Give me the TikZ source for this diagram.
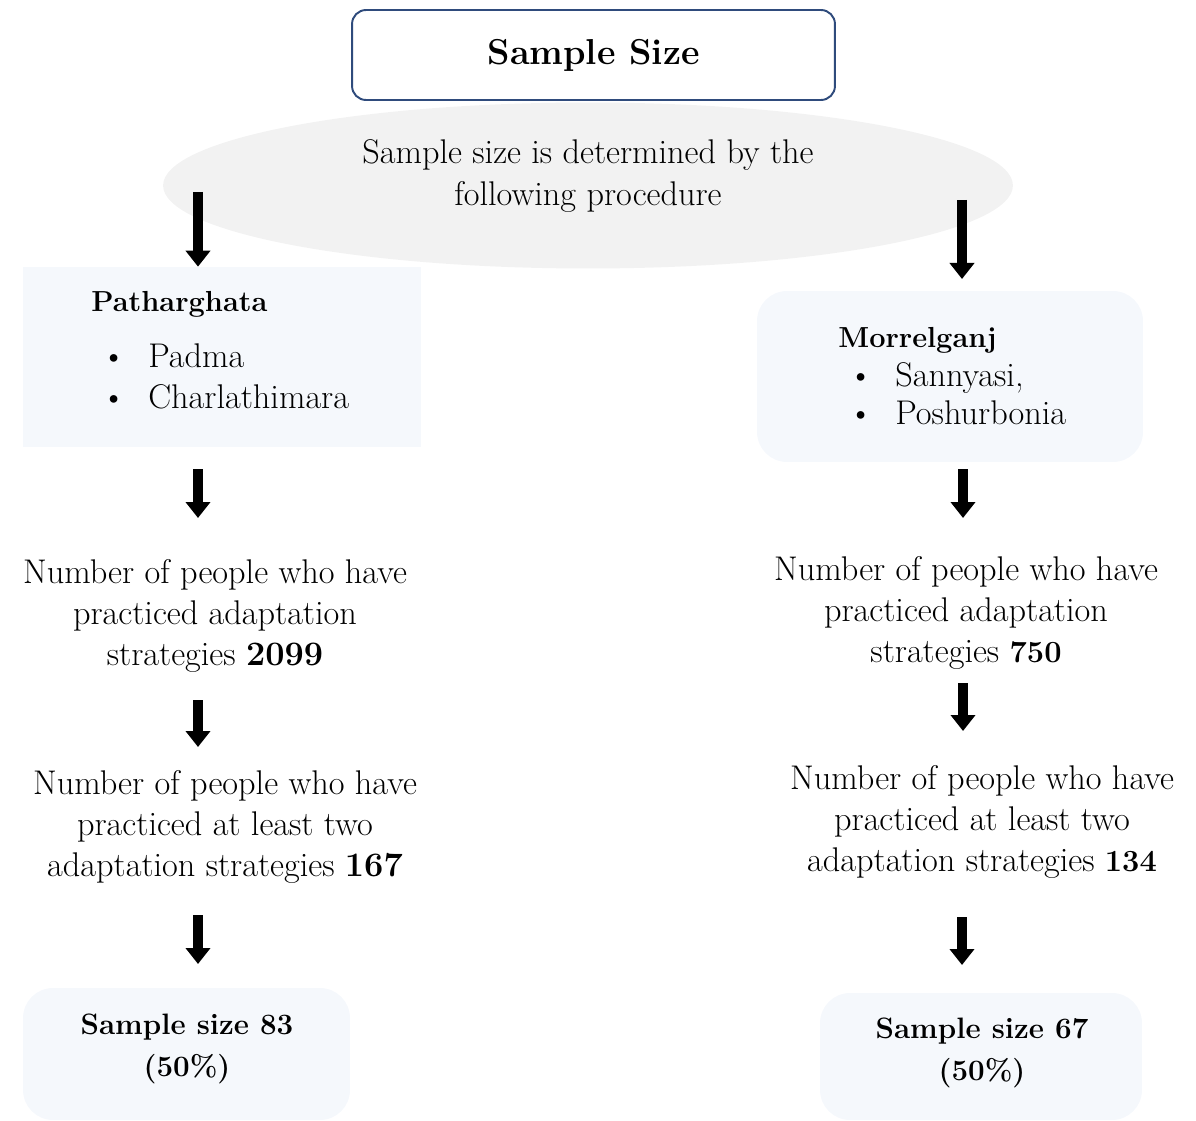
\documentclass[tikz,border=0pt]{standalone}
\usepackage{tikz}
\usetikzlibrary{shapes.geometric,arrows.meta,positioning,calc}
\definecolor{titleblue}{HTML}{2F4B7C}
\definecolor{boxfill}{HTML}{F5F8FC}
\definecolor{ovalfill}{HTML}{F2F2F2}
\newcommand\bodyfont{\fontsize{19.5}{23.5}\selectfont}
\newcommand\headfont{\fontsize{16.5}{23.5}\selectfont\bfseries}
\newcommand\resfont{\fontsize{16.8}{23.5}\selectfont\bfseries}
\newcommand\bignum[1]{{\fontsize{19.5}{23.5}\selectfont\bfseries #1}}
\newcommand\midnum[1]{{\fontsize{17.5}{23.5}\selectfont\bfseries #1}}
\newcommand\itembullet{\hspace*{0.2cm}\makebox[0.94cm][l]{\textbullet}}

\begin{document}
\begin{tikzpicture}[
    x=0.02cm, y=-0.02cm,
    every node/.style={inner sep=0pt, font=\bodyfont},
    titlebox/.style={draw=titleblue, line width=1.1pt, rounded corners=0.28cm,
      fill=white, minimum width=9.66cm, minimum height=1.8cm,
      font=\fontsize{20.5}{24}\selectfont\bfseries},
    oval/.style={ellipse, fill=ovalfill, minimum width=17cm, minimum height=3.32cm},
    areabox/.style={fill=boxfill},
    resultbox/.style={fill=boxfill, rounded corners=0.6cm},
    steptext/.style={align=center},
    bigarrow/.style={line width=0.2cm, -{Triangle[width=0.48cm,length=0.32cm]}}
  ]
\useasboundingbox (0,0) rectangle (1196,1121);

% procedure oval and title
\node[oval] (proc) at (588,185.5) {};
\node[steptext] (proctext) at (588,176) {Sample size is determined by the\\following procedure};
\node[titlebox] (title) at (593.5,55) {Sample Size};

% the two upazilas
\node[areabox, minimum width=7.96cm, minimum height=3.6cm] (PG) at (222,357) {};
\node[anchor=north west, align=left] (PGtext) at (91,291)
  {{\headfont Patharghata}\\[8.4pt]
   \itembullet Padma\\
   \itembullet Charlathimara};

\node[areabox, rounded corners=0.6cm, minimum width=7.72cm, minimum height=3.42cm] (MG) at (950,376.5) {};
\node[anchor=north west, align=left] (MGtext) at (838,327)
  {{\headfont Morrelganj}\\[-1.5pt]
   \itembullet Sannyasi,\\[-1.5pt]
   \itembullet Poshurbonia};

% counts
\node[steptext] (PGall) at (215,616)
  {Number of people who have\\practiced adaptation\\strategies \bignum{2099}};
\node[steptext] (PGtwo) at (225,827)
  {Number of people who have\\practiced at least two\\adaptation strategies \bignum{167}};
\node[steptext] (MGall) at (966,613)
  {Number of people who have\\practiced adaptation\\strategies \midnum{750}};
\node[steptext] (MGtwo) at (982,822)
  {Number of people who have\\practiced at least two\\adaptation strategies \midnum{134}};

% sample sizes
\node[resultbox, minimum width=6.54cm, minimum height=2.64cm] (PGss) at (186.5,1054) {};
\node[steptext, font=\resfont] (PGsstext) at (187,1049) {Sample size 83\\(50\%)};
\node[resultbox, minimum width=6.44cm, minimum height=2.54cm] (MGss) at (981,1056.5) {};
\node[steptext, font=\resfont] (MGsstext) at (982,1053) {Sample size 67\\(50\%)};

% arrow ends
\coordinate (L0) at (198,192);  \coordinate (L1) at (PG.north -| L0);
\coordinate (R0) at (962,200);  \coordinate (R1) at (962,279);
\coordinate (L2) at (198,469);  \coordinate (L3) at (198,518);
\coordinate (R2) at (963,469);  \coordinate (R3) at (963,518);
\coordinate (L4) at (198,700);  \coordinate (L5) at (198,747);
\coordinate (R4) at (963,683);  \coordinate (R5) at (963,731);
\coordinate (L6) at (198,915);  \coordinate (L7) at (198,964);
\coordinate (R6) at (962,917);  \coordinate (R7) at (962,965);

\foreach \a/\b in {L0/L1, R0/R1, L2/L3, R2/R3, L4/L5, R4/R5, L6/L7, R6/R7}
  \draw[bigarrow] (\a) -- (\b);

\end{tikzpicture}
\end{document}
